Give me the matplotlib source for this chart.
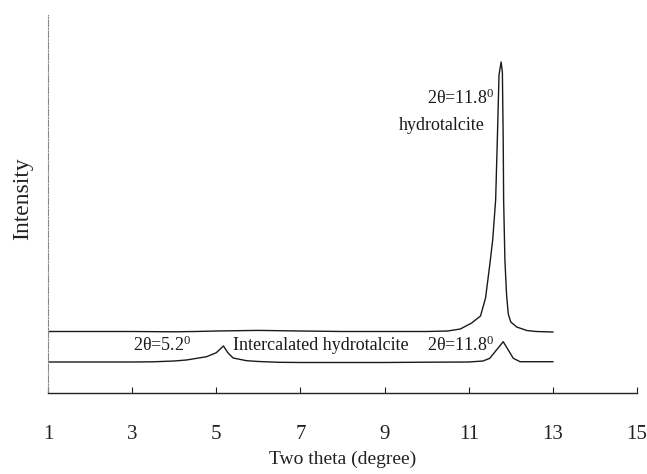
import matplotlib
matplotlib.use("Agg")
import matplotlib.pyplot as plt

plt.rcParams['font.family'] = ['Liberation Serif', 'DejaVu Serif']
plt.rcParams['mathtext.fontset'] = 'custom'
plt.rcParams['mathtext.rm'] = 'Liberation Serif'
plt.rcParams['mathtext.it'] = 'Liberation Serif'

# hydrotalcite (upper trace)
ht_theta = [1.0, 2.0, 3.0, 4.0, 4.5, 5.0, 5.5, 6.0, 6.5, 7.0, 8.0, 9.0, 10.0, 10.5,
            10.8, 11.07, 11.28, 11.40, 11.50, 11.57, 11.64, 11.68, 11.72, 11.77,
            11.80, 11.82, 11.83, 11.86, 11.90, 11.94, 12.00, 12.14, 12.38, 12.6, 13.0]
ht_int = [61.5, 61.5, 61.5, 61.2, 61.5, 62.0, 62.3, 62.6, 62.3, 62.0, 61.5, 61.5, 61.5, 62.0,
          64.0, 70.0, 77.0, 95.0, 128.0, 153.0, 193.0, 253.0, 318.0, 331.0,
          321.0, 253.0, 193.0, 133.0, 98.0, 79.0, 71.0, 66.0, 62.5, 61.5, 61.0]

# intercalated hydrotalcite (lower trace)
ih_theta = [1.0, 2.0, 3.0, 3.5, 4.0, 4.29, 4.77, 5.0, 5.17, 5.28, 5.4, 5.72, 6.0, 6.5,
            7.0, 8.0, 9.0, 10.0, 11.0, 11.34, 11.50, 11.66, 11.82, 11.94, 12.06, 12.22, 13.0]
ih_int = [31.0, 31.0, 31.0, 31.2, 32.0, 33.0, 36.3, 40.3, 47.0, 40.0, 35.0, 32.3, 31.5, 30.7,
          30.5, 30.5, 30.5, 30.8, 31.0, 32.0, 34.7, 43.0, 51.3, 43.0, 34.7, 31.3, 31.3]

xticks = [1, 3, 5, 7, 9, 11, 13, 15]

fig = plt.figure(figsize=(6.47, 4.74), dpi=100)
ax = fig.add_axes([48/647, 81/474, 589/647, 378/474])

ax.plot(ht_theta, ht_int, color='#1a1a1a', lw=1.0)
ax.plot(ih_theta, ih_int, color='#1a1a1a', lw=1.0)

ax.set_xlim(1, 15)
ax.set_ylim(0, 378)
ax.set_xticks(xticks)
ax.set_xticklabels([str(t) for t in xticks])
ax.set_yticks([])
ax.tick_params(axis='x', direction='in', length=4, width=0.8, pad=23, labelsize=15, colors='#222222')

for s in ['top', 'right']:
    ax.spines[s].set_visible(False)
ax.spines['left'].set_color('#888888')
ax.spines['left'].set_linewidth(0.8)
ax.spines['left'].set_linestyle((0, (6, 1.5, 1, 1.5)))
ax.spines['bottom'].set_color('#222222')
ax.spines['bottom'].set_linewidth(1.0)

ax.set_xlabel('Two theta (degree)', fontsize=14, labelpad=5, color='#222222')
ax.set_ylabel('Intensity', fontsize=17, color='#222222')
ax.yaxis.set_label_coords(-0.026, 0.515)

tc = '#1a1a1a'
fs = 13
ax.text(3.02, 48, r'2θ=5.2$^{0}$', fontsize=fs, ha='left', va='center', color=tc)
ax.text(5.40, 48, 'Intercalated hydrotalcite', fontsize=fs, ha='left', va='center', color=tc)
ax.text(10.01, 48, r'2θ=11.8$^{0}$', fontsize=fs, ha='left', va='center', color=tc)
ax.text(10.01, 295, r'2θ=11.8$^{0}$', fontsize=fs, ha='left', va='center', color=tc)
ax.text(11.39, 268, 'hydrotalcite', fontsize=fs, ha='right', va='center', color=tc)

fig.savefig('out.png', dpi=100)
